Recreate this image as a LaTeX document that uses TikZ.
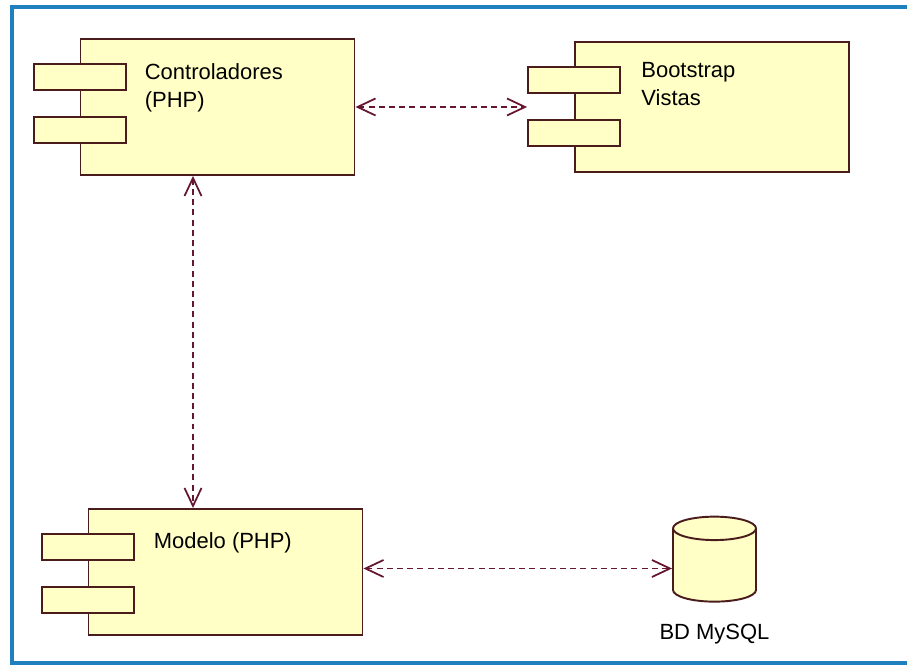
\documentclass[tikz,border=0pt]{standalone}
\usepackage{fontspec}
\setmainfont{Liberation Sans}
\usepackage{xcolor}
\usetikzlibrary{shapes.geometric, arrows.meta, positioning}
\definecolor{compfill}{RGB}{255, 255, 198}
\definecolor{compline}{RGB}{74, 28, 28}
\definecolor{depline}{RGB}{100, 22, 50}
\definecolor{frameblue}{RGB}{30, 128, 190}

\begin{document}
\begin{tikzpicture}[
  comp/.style={rectangle, draw=compline, fill=compfill, line width=1.1pt,
               minimum width=5.48cm},
  port/.style={rectangle, draw=compline, fill=compfill, line width=1.1pt,
               minimum width=1.84cm, minimum height=0.52cm},
  ctext/.style={inner sep=0pt, align=left, font=\fontsize{12.5}{16}\selectfont},
  dbase/.style={cylinder, shape border rotate=90, aspect=2, draw=compline,
                fill=compfill, line width=1.1pt, minimum width=1.66cm, minimum height=1.7cm},
  dep/.style={{Straight Barb[length=3.6mm, width=3.4mm]}-{Straight Barb[length=3.6mm, width=3.4mm]},
              draw=depline, line width=1pt, dash pattern=on 3.4pt off 2.4pt}
]

\useasboundingbox (0,0) rectangle (18.14,13.32);
\draw[frameblue, line width=1.8pt] (18.6,13.18) -- (0.24,13.18) -- (0.24,0.06) -- (18.6,0.06);

% components
\node[comp, minimum height=2.72cm] (ctrl) at (4.35,11.18) {};
\node[comp, minimum height=2.6cm] (boot) at (14.24,11.18) {};
\node[comp, minimum height=2.52cm] (model) at (4.51,1.88) {};

\foreach \b in {ctrl, boot, model} {
  \node[port] (\b p1) at ([yshift=-0.78cm]\b.north west) {};
  \node[port] (\b p2) at ([yshift=-1.84cm]\b.north west) {};
}

\node[ctext, below right=0.5cm and 1.3cm of ctrl.north west] (ctrltxt) {Controladores\\(PHP)};
\node[ctext, below right=0.42cm and 1.34cm of boot.north west] (boottxt) {Bootstrap\\Vistas};
\node[ctext, below right=0.48cm and 1.32cm of model.north west] (modeltxt) {Modelo (PHP)};

% database
\node[dbase] (db) at (14.29,1.95) {};
\node[ctext, below=0.42cm of db] (dbtxt) {BD MySQL};

% dependencies
\draw[dep] (ctrl.east) -- (ctrl.east -| bootp1.west);
\draw[dep] ([xshift=-0.49cm]ctrl.south) -- ([xshift=-0.49cm]ctrl.south |- model.north);
\draw[dep] (db.west -| model.east) -- (db.west);

\end{tikzpicture}
\end{document}
